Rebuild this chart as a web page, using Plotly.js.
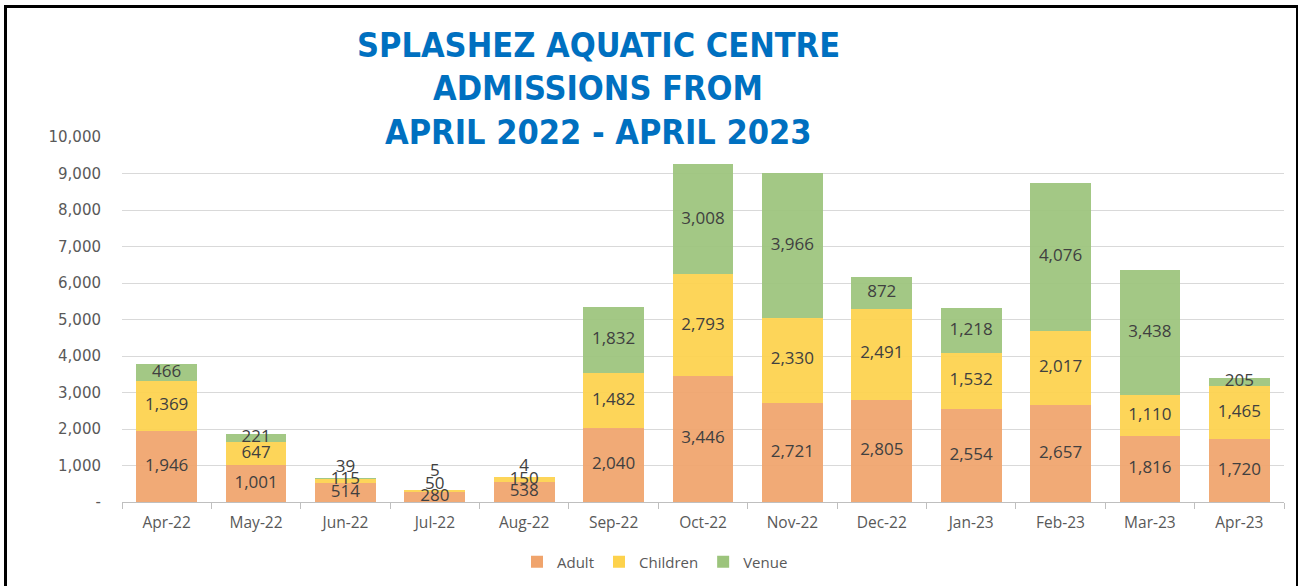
<!DOCTYPE html>
<html>
<head>
<meta charset="utf-8">
<script src="https://cdn.plot.ly/plotly-3.0.1.min.js"></script>
<style>
  html, body { margin: 0; padding: 0; background: #fff; }
  #wrap { position: relative; width: 1298px; height: 586px; overflow: hidden; }
  #chart { position: absolute; left: 0; top: 0; width: 1298px; height: 586px; }
  #frame { position: absolute; left: 4px; top: 5px; width: 1289px; height: 700px;
           border: 3px solid #000; pointer-events: none; }
</style>
</head>
<body>
<div id="wrap">
  <div id="chart"></div>
  <div id="frame"></div>
</div>
<script>
const months = ["Apr-22","May-22","Jun-22","Jul-22","Aug-22","Sep-22","Oct-22","Nov-22","Dec-22","Jan-23","Feb-23","Mar-23","Apr-23"];
const adult    = [1946, 1001, 514, 280, 538, 2040, 3446, 2721, 2805, 2554, 2657, 1816, 1720];
const children = [1369,  647, 115,  50, 150, 1482, 2793, 2330, 2491, 1532, 2017, 1110, 1465];
const venue    = [ 466,  221,  39,   5,   4, 1832, 3008, 3966,  872, 1218, 4076, 3438,  205];
const yTickVals = [0,1000,2000,3000,4000,5000,6000,7000,8000,9000,10000];
const yTickText = ["-","1,000","2,000","3,000","4,000","5,000","6,000","7,000","8,000","9,000","10,000"];
const titleLines = ["SPLASHEZ AQUATIC CENTRE", "ADMISSIONS FROM", "APRIL 2022 - APRIL 2023"];

const colors = { Adult: "#F0A46C", Children: "#FDD24C", Venue: "#9CC47C" };
const fmt = v => v.toLocaleString("en-US");

const series = [["Adult", adult], ["Children", children], ["Venue", venue]];
const traces = series.map(([name, vals]) => ({
  type: "bar", name: name, x: months, y: vals,
  marker: { color: colors[name], opacity: 0.93, line: { width: 0 } },
  hoverinfo: "x+y+name"
}));

// label positions: segment midpoints, pushed up to avoid overlapping on thin bars
const minGap = 340;
const labelX = [], labelY = [], labelT = [];
months.forEach((m, i) => {
  let base = 0, prev = -Infinity;
  series.forEach(([name, vals]) => {
    const mid = base + vals[i] / 2;
    const pos = Math.max(mid, prev + minGap);
    labelX.push(m); labelY.push(pos); labelT.push(fmt(vals[i]));
    prev = pos; base += vals[i];
  });
});
traces.push({
  type: "scatter", mode: "text", x: labelX, y: labelY, text: labelT,
  textposition: "middle center", showlegend: false, hoverinfo: "skip", cliponaxis: false,
  textfont: { family: "Open Sans, Liberation Sans, sans-serif", size: 17, color: "#404040" }
});

// title lines as annotations (pixel positions from top of page)
const H = 586, mT = 137, mB = 84, plotH = H - mT - mB;
const lineCentres = [45, 88, 132];
const annotations = titleLines.map((t, k) => ({
  text: "<b>" + t + "</b>", showarrow: false,
  xref: "paper", x: (598 - 122) / 1162, xanchor: "center",
  yref: "paper", y: (H - mB - lineCentres[k]) / plotH, yanchor: "middle",
  font: { family: "DejaVu Sans Condensed, DejaVu Sans, sans-serif", size: 34, color: "#0070C0" }
}));

const layout = {
  width: 1298, height: 586,
  margin: { l: 122, r: 14, t: mT, b: mB, autoexpand: false },
  paper_bgcolor: "#fff", plot_bgcolor: "#fff",
  barmode: "stack", bargap: 0.32,
  annotations: annotations,
  xaxis: {
    type: "category", categoryorder: "array", categoryarray: months,
    range: [-0.5, months.length - 0.5], autorange: false, automargin: false,
    showline: true, linecolor: "#BFBFBF", linewidth: 1,
    ticks: "outside", tickson: "boundaries", ticklen: 6, tickcolor: "#BFBFBF",
    ticklabelstandoff: 6,
    tickfont: { family: "Open Sans, Liberation Sans, sans-serif", size: 15.5, color: "#595959" },
    showgrid: false, fixedrange: true
  },
  yaxis: {
    range: [0, 10000], autorange: false, automargin: false,
    tickvals: yTickVals, ticktext: yTickText,
    showgrid: true, gridcolor: "#D9D9D9", gridwidth: 1,
    zeroline: false, showline: false, ticks: "",
    ticklabelstandoff: 20,
    tickfont: { family: "DejaVu Sans, sans-serif", size: 15, color: "#595959" },
    fixedrange: true
  },
  legend: {
    orientation: "h", x: (655 - 122) / 1162, xanchor: "center",
    y: (H - mB - 562) / plotH, yanchor: "middle",
    font: { family: "Open Sans, Liberation Sans, sans-serif", size: 15, color: "#595959" },
    itemwidth: 30, traceorder: "normal"
  },
  showlegend: true
};

Plotly.newPlot("chart", traces, layout, { displayModeBar: false, staticPlot: true });
</script>
</body>
</html>
